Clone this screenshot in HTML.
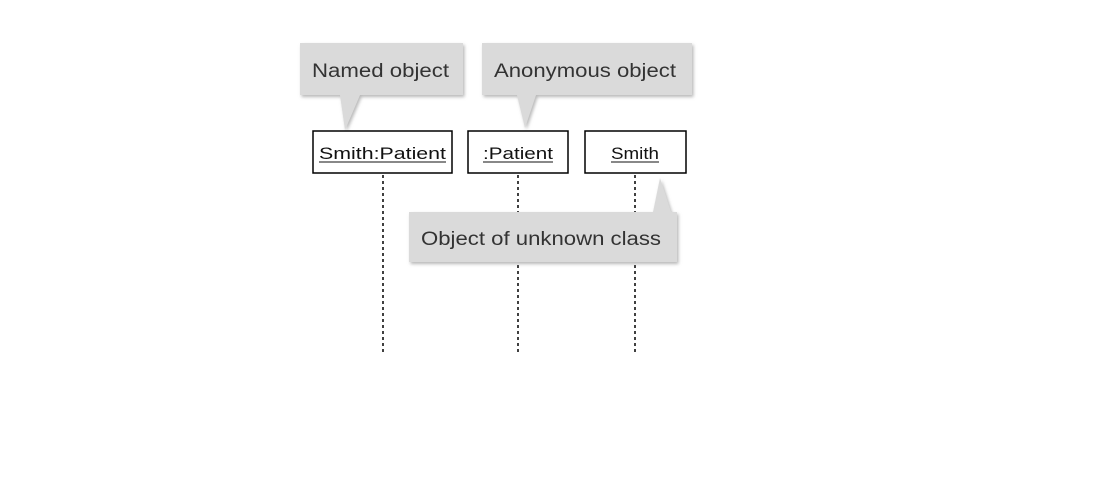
<!DOCTYPE html>
<html><head><style>
html,body{margin:0;padding:0;background:#fff;}
body{width:1094px;height:497px;position:relative;overflow:hidden;font-family:"Liberation Sans",sans-serif;}
svg{position:absolute;left:0;top:0;}
</style></head><body>
<svg width="1094" height="497" viewBox="0 0 1094 497">
<defs><filter id="sh" x="-10%" y="-10%" width="130%" height="140%"><feDropShadow dx="1.5" dy="2" stdDeviation="1.5" flood-color="#999" flood-opacity="0.7"/></filter></defs>
<g stroke="#000" stroke-width="1.5" stroke-dasharray="3,3">
<line x1="383" y1="175" x2="383" y2="355"/>
<line x1="518" y1="175" x2="518" y2="355"/>
<line x1="635" y1="175" x2="635" y2="355"/>
</g>
<g fill="#dadada" filter="url(#sh)">
<path d="M300 43 H463 V95 H360 L345 130 L340 95 H300 Z"/>
<path d="M482 43 H692 V95 H536 L525 128 L517 95 H482 Z"/>
<path d="M409 212 H653 L660 178 L671 212 H677 V262 H409 Z"/>
</g>
<g font-size="19" fill="#333">
<text x="312" y="77" textLength="137" lengthAdjust="spacingAndGlyphs">Named object</text>
<text x="494" y="77" textLength="182" lengthAdjust="spacingAndGlyphs">Anonymous object</text>
<text x="421" y="245" textLength="240" lengthAdjust="spacingAndGlyphs">Object of unknown class</text>
</g>
<g fill="#fff" stroke="#000" stroke-width="1.5">
<rect x="313" y="131" width="139" height="42"/>
<rect x="468" y="131" width="100" height="42"/>
<rect x="585" y="131" width="101" height="42"/>
</g>
<g font-size="17" fill="#111">
<text x="319" y="159" textLength="127" lengthAdjust="spacingAndGlyphs">Smith:Patient</text>
<text x="483" y="159" textLength="70" lengthAdjust="spacingAndGlyphs">:Patient</text>
<text x="611" y="159" textLength="48" lengthAdjust="spacingAndGlyphs">Smith</text>
</g>
<g stroke="#111" stroke-width="1">
<line x1="319" y1="162" x2="446" y2="162"/>
<line x1="483" y1="162" x2="553" y2="162"/>
<line x1="611" y1="162" x2="659" y2="162"/>
</g>
</svg>
</body></html>
